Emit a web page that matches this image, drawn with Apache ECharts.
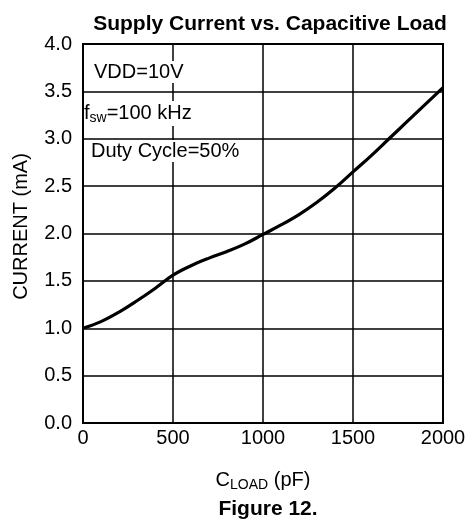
<!DOCTYPE html>
<html><head><meta charset="utf-8">
<script src="https://cdn.jsdelivr.net/npm/echarts@6/dist/echarts.min.js"></script>
<style>html,body{margin:0;padding:0;background:#fff}#c{width:472px;height:521px}</style>
</head><body><div id="c"></div>
<script>
var capLoad = [0,100,200,300,400,500,600,700,800,900,1000,1100,1200,1300,1400,1500,1600,1700,1800,1900,2000];
var current = [1.00,1.07,1.17,1.29,1.42,1.56,1.66,1.74,1.81,1.89,1.99,2.09,2.20,2.33,2.48,2.65,2.82,3.00,3.18,3.36,3.54];
var yTicks = [0,0.5,1,1.5,2,2.5,3,3.5,4];
var xTicks = [0,500,1000,1500,2000];
var annotations = ['VDD=10V', 'f_sw=100 kHz', 'Duty Cycle=50%'];

var FONT = 'Liberation Sans, Arial, sans-serif';
var chart = echarts.init(document.getElementById('c'), null, {renderer:'canvas'});
var data = capLoad.map(function(x,i){return [x,current[i]];});
chart.setOption({
  backgroundColor:'#fff',
  animation:false,
  title:[{text:'Supply Current vs. Capacitive Load', left:265, top:9, textAlign:'center',
          textStyle:{fontFamily:FONT, fontWeight:'bold', fontSize:21, color:'#000'}},
         {text:'Figure 12.', left:263, top:494, textAlign:'center',
          textStyle:{fontFamily:FONT, fontWeight:'bold', fontSize:21, color:'#000'}}],
  grid:{left:83, right:29, top:44, bottom:98, show:true, borderColor:'#000', borderWidth:2, backgroundColor:'transparent'},
  xAxis:{type:'value', min:xTicks[0], max:xTicks[xTicks.length-1], interval:500,
    axisLine:{lineStyle:{color:'#000', width:2}}, axisTick:{show:false},
    splitLine:{show:true, lineStyle:{color:'#000', width:1.5}},
    axisLabel:{fontFamily:FONT, fontSize:20, color:'#000', margin:5, formatter:function(v){return String(v);}},
    name:'{a|C}{s|LOAD}{a| (pF)}', nameLocation:'middle', nameGap:46,
    nameTextStyle:{rich:{a:{fontFamily:FONT, fontSize:20, color:'#000'},
      s:{fontFamily:FONT, fontSize:14, color:'#000', verticalAlign:'bottom', padding:[9,0,0,0]}}}},
  yAxis:{type:'value', min:yTicks[0], max:yTicks[yTicks.length-1], interval:0.5,
    axisLine:{show:true, lineStyle:{color:'#000', width:2}}, axisTick:{show:false},
    splitLine:{show:true, lineStyle:{color:'#000', width:1.5}},
    axisLabel:{fontFamily:FONT, fontSize:20, color:'#000', margin:11, formatter:function(v){return v.toFixed(1);}},
    name:'CURRENT (mA)', nameLocation:'middle', nameGap:52,
    nameTextStyle:{fontFamily:FONT, fontSize:20, color:'#000', padding:[0,0,0,14]}},
  graphic:[
    {type:'text', left:92, top:61, z:100, style:{text:annotations[0], fontFamily:FONT, fontSize:20, fill:'#000', backgroundColor:'#fff', padding:[1,2,1,2]}},
    {type:'text', left:84, top:101, z:100, style:{text:'{a|f}{s|sw}{a|=100 kHz}', backgroundColor:'#fff', padding:[1,2,1,0],
      rich:{a:{fontFamily:FONT, fontSize:20, fill:'#000'}, s:{fontFamily:FONT, fontSize:14, fill:'#000', verticalAlign:'bottom', padding:[9,0,0,0]}}}},
    {type:'text', left:89, top:140, z:100, style:{text:annotations[2], fontFamily:FONT, fontSize:20, fill:'#000', backgroundColor:'#fff', padding:[1,2,1,2]}}
  ],
  series:[{type:'line', data:data, smooth:0.4, showSymbol:false, z:10,
    lineStyle:{color:'#000', width:3.2}}]
});
</script></body></html>
